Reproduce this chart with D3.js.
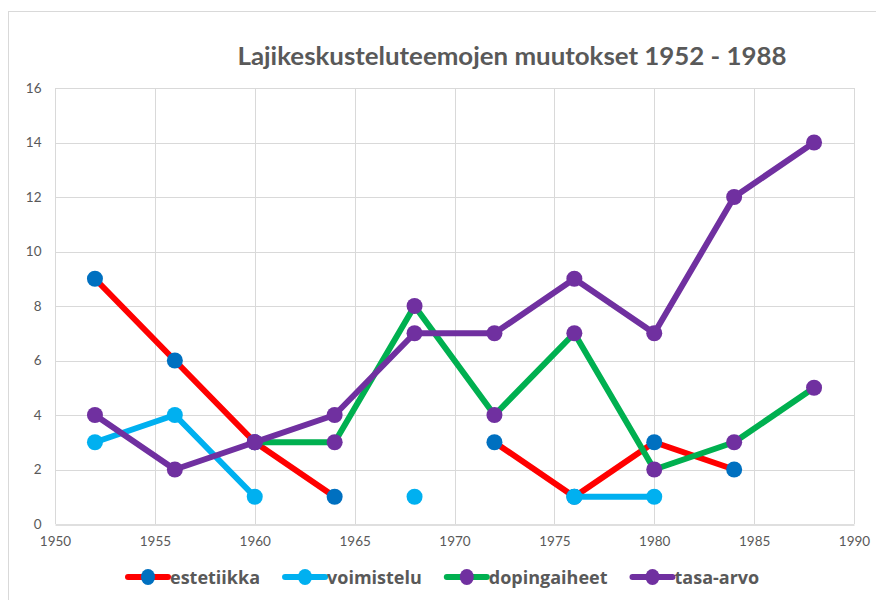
<!DOCTYPE html>
<html>
<head>
<meta charset="utf-8">
<script src="https://cdn.jsdelivr.net/npm/d3@7"></script>
<style>
  html, body { margin: 0; padding: 0; background: #fff; }
  svg { display: block; }
</style>
</head>
<body>
<svg id="chart" width="876" height="600"></svg>
<script>
const years = [1952, 1956, 1960, 1964, 1968, 1972, 1976, 1980, 1984, 1988];
const estetiikka   = [9, 6, 3, 1, null, 3, 1, 3, 2, null];
const voimistelu   = [3, 4, 1, null, 1, null, 1, 1, null, null];
const dopingaiheet = [null, null, 3, 3, 8, 4, 7, 2, 3, 5];
const tasaArvo     = [4, 2, 3, 4, 7, 7, 9, 7, 12, 14];
const xTicks = [1950, 1955, 1960, 1965, 1970, 1975, 1980, 1985, 1990];
const yTicks = [0, 2, 4, 6, 8, 10, 12, 14, 16];
const title = "Lajikeskusteluteemojen muutokset 1952 - 1988";

const series = [
  { name: "estetiikka",   values: estetiikka,   line: "#FF0000", marker: "#0070C0" },
  { name: "voimistelu",   values: voimistelu,   line: "#00B0F0", marker: "#00B0F0" },
  { name: "dopingaiheet", values: dopingaiheet, line: "#00B050", marker: "#7030A0" },
  { name: "tasa-arvo",    values: tasaArvo,     line: "#7030A0", marker: "#7030A0" }
];

const svg = d3.select("#chart");
const textColor = "#595959";
const font = "Lato, 'Open Sans', 'Liberation Sans', sans-serif";
const legendFont = "'Open Sans', Lato, 'Liberation Sans', sans-serif";

// outer chart frame
svg.append("rect")
  .attr("x", 8.5).attr("y", 11.5)
  .attr("width", 1000).attr("height", 1000)
  .attr("fill", "#fff").attr("stroke", "#d9d9d9").attr("stroke-width", 1);

const x = d3.scaleLinear().domain([1950, 1990]).range([55, 854]);
const y = d3.scaleLinear().domain([0, 16]).range([524, 88]);

// gridlines
const grid = svg.append("g");
grid.selectAll("line.h").data(yTicks.filter(d => d > 0)).join("line")
  .attr("x1", x(1950)).attr("x2", x(1990))
  .attr("y1", d => Math.round(y(d)) + 0.5).attr("y2", d => Math.round(y(d)) + 0.5)
  .attr("stroke", "#d9d9d9").attr("stroke-width", 1);
grid.selectAll("line.v").data(xTicks).join("line")
  .attr("x1", d => Math.round(x(d)) + 0.5).attr("x2", d => Math.round(x(d)) + 0.5)
  .attr("y1", y(16)).attr("y2", y(0))
  .attr("stroke", "#d9d9d9").attr("stroke-width", 1);

// x axis
const xAxis = d3.axisBottom(x).tickValues(xTicks).tickFormat(d3.format("d")).tickSize(0).tickPadding(12);
const gx = svg.append("g").attr("transform", `translate(0,${Math.round(y(0)) + 0.5})`).call(xAxis);
gx.select(".domain").attr("stroke", "#bfbfbf");
gx.selectAll("text").attr("fill", textColor).style("font-family", font).style("font-size", "13.5px");

// y axis
const yAxis = d3.axisLeft(y).tickValues(yTicks).tickSize(0).tickPadding(14);
const gy = svg.append("g").attr("transform", `translate(${Math.round(x(1950)) + 0.5},0)`).call(yAxis);
gy.select(".domain").remove();
gy.selectAll("text").attr("fill", textColor).style("font-family", font).style("font-size", "13.5px");

// series
const line = d3.line()
  .defined(d => d.v !== null)
  .x(d => x(d.year)).y(d => y(d.v));

series.forEach(s => {
  const pts = years.map((yr, i) => ({ year: yr, v: s.values[i] }));
  const g = svg.append("g");
  g.append("path").datum(pts)
    .attr("d", line)
    .attr("fill", "none")
    .attr("stroke", s.line)
    .attr("stroke-width", 6)
    .attr("stroke-linejoin", "round");
  g.selectAll("circle").data(pts.filter(d => d.v !== null)).join("circle")
    .attr("cx", d => x(d.year)).attr("cy", d => y(d.v))
    .attr("r", 8)
    .attr("fill", s.marker);
});

// title
svg.append("text")
  .attr("x", 512).attr("y", 65)
  .attr("text-anchor", "middle")
  .attr("fill", textColor)
  .style("font-family", font)
  .style("font-weight", "bold")
  .style("font-size", "24px")
  .attr("textLength", 549)
  .attr("lengthAdjust", "spacingAndGlyphs")
  .text(title);

// legend
const legend = svg.append("g");
let lx = 128;
const ly = 577;
series.forEach(s => {
  const item = legend.append("g");
  item.append("line")
    .attr("x1", lx).attr("x2", lx + 40)
    .attr("y1", ly).attr("y2", ly)
    .attr("stroke", s.line).attr("stroke-width", 6).attr("stroke-linecap", "round");
  item.append("ellipse")
    .attr("cx", lx + 20).attr("cy", ly).attr("rx", 7).attr("ry", 8)
    .attr("fill", s.marker);
  const t = item.append("text")
    .attr("x", lx + 42).attr("y", ly + 6.5)
    .attr("fill", textColor)
    .style("font-family", legendFont)
    .style("font-weight", "bold")
    .style("font-size", "18px")
    .text(s.name);
  lx = lx + 42 + t.node().getComputedTextLength() + 25;
});
</script>
</body>
</html>
